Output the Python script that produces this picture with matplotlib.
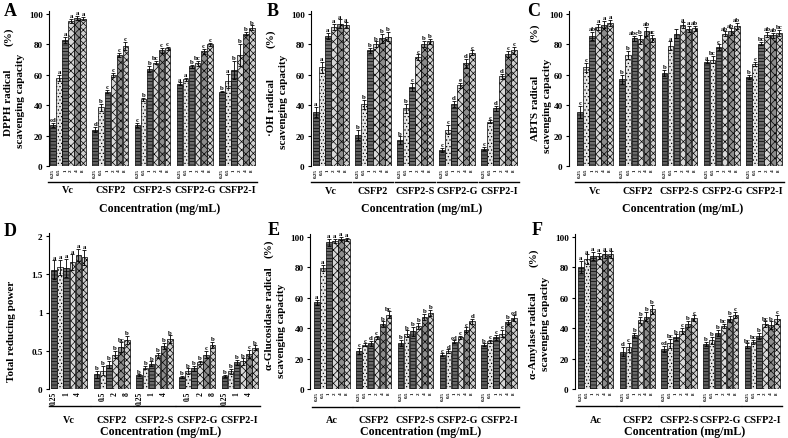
import matplotlib
matplotlib.use("Agg")
import matplotlib.pyplot as plt
from matplotlib.ticker import FuncFormatter

plt.rcParams['font.family'] = ['Liberation Serif', 'DejaVu Serif']
plt.rcParams['font.weight'] = 'bold'
plt.rcParams['hatch.linewidth'] = 0.5

W, H = 788, 439

concs = ["0.25", "0.5", "1", "2", "4", "8"]
groups_v = ["Vc", "CSFP2", "CSFP2-S", "CSFP2-G", "CSFP2-I"]
groups_a = ["Ac", "CSFP2", "CSFP2-S", "CSFP2-G", "CSFP2-I"]

# ---- Panel A: DPPH ----
a_vals = [[27, 58, 83, 95.5, 97.5, 97],
          [24, 38.5, 49, 60, 73, 79],
          [27, 44, 64, 68, 76, 77.5],
          [54, 57, 65.5, 67.5, 75.5, 80],
          [49, 56, 63, 73, 87, 91]]
a_err = [[1.5, 2, 2, 1.5, 1.5, 1],
         [1.5, 2.5, 1, 1.5, 1.5, 2.5],
         [1.5, 1, 2, 1, 1.5, 1],
         [1, 1, 1, 1.5, 1.5, 1],
         [0.5, 4.5, 6, 7.5, 1, 1.5]]
a_sig = [["cd", "a", "a", "a", "a", "a"],
         ["d", "b", "c", "c", "c", "c"],
         ["c", "b", "b", "bc", "c", "c"],
         ["a", "a", "b", "bc", "c", "c"],
         ["b", "a", "b", "b", "b", "b"]]

# ---- Panel B: .OH ----
b_vals = [[35.5, 65, 85.5, 91.5, 93.5, 92.5],
          [20.5, 40.5, 76, 80, 84, 85],
          [17, 38, 52, 71.5, 80.5, 82],
          [10.5, 24, 41, 53, 67.5, 74.5],
          [11.5, 29, 38, 59, 73.5, 76]]
b_err = [[3.5, 3.5, 2, 2, 3, 2],
         [3.5, 3, 1.5, 2, 3, 3],
         [2.5, 3, 2.5, 2, 2, 1.5],
         [1.5, 3, 2, 1.5, 3, 1.5],
         [1, 1, 1.5, 1.5, 2, 2.5]]
b_sig = [["a", "a", "a", "a", "a", "a"],
         ["b", "b", "b", "b", "b", "b"],
         ["b", "b", "c", "c", "b", "b"],
         ["c", "c", "d", "e", "d", "c"],
         ["c", "c", "d", "d", "c", "c"]]

# ---- Panel C: ABTS ----
c_vals = [[35.5, 65, 85.5, 91.5, 93, 94],
          [57, 73, 84, 83.5, 88.5, 84],
          [61, 79, 87, 92.5, 90, 90.5],
          [68.5, 70, 78, 87, 88.5, 92],
          [58.5, 67, 80.5, 86.5, 86, 87.5]]
c_err = [[4, 3, 2.5, 2, 2.5, 2],
         [3, 2.5, 1.5, 3, 3, 2.5],
         [2, 3, 3, 2, 2, 1.5],
         [1, 2.5, 2, 1.5, 2, 2],
         [1.5, 1.5, 1, 1.5, 1.5, 2]]
c_sig = [["c", "c", "ab", "a", "a", "a"],
         ["b", "b", "abc", "b", "ab", "ac"],
         ["b", "a", "", "a", "a", "ab"],
         ["a", "bc", "c", "ab", "ab", "ab"],
         ["b", "c", "bc", "ab", "ab", "bc"]]

# ---- Panel D: total reducing power ----
d_vals = [[1.56, 1.59, 1.58, 1.66, 1.75, 1.72],
          [0.19, 0.24, 0.32, 0.45, 0.55, 0.64],
          [0.18, 0.28, 0.33, 0.44, 0.56, 0.65],
          [0.16, 0.23, 0.27, 0.35, 0.45, 0.58],
          [0.17, 0.23, 0.35, 0.36, 0.46, 0.54]]
d_err = [[0.12, 0.1, 0.12, 0.1, 0.08, 0.1],
         [0.05, 0.06, 0.05, 0.05, 0.06, 0.05],
         [0.01, 0.02, 0.03, 0.03, 0.04, 0.05],
         [0.01, 0.04, 0.03, 0.02, 0.05, 0.04],
         [0.01, 0.03, 0.03, 0.04, 0.05, 0.03]]
d_sig = [["a", "a", "a", "a", "a", "a"],
         ["b", "b", "b", "b", "bc", "b"],
         ["b", "b", "b", "b", "b", "b"],
         ["b", "b", "b", "b", "c", "b"],
         ["b", "b", "b", "b", "c", "b"]]

# ---- Panel E: alpha-glucosidase ----
e_vals = [[57, 79.5, 96.5, 97.5, 99, 98.5],
          [25, 29, 30, 34, 42.5, 49],
          [30.5, 36.5, 38, 41.5, 47.5, 50],
          [22.5, 25, 31, 34, 39, 44.5],
          [29, 31.5, 34, 36.5, 44, 46.5]]
e_err = [[1.5, 2, 2.5, 1.5, 1, 1],
         [2, 1, 1.5, 1, 2, 2],
         [2, 2, 3, 2, 2, 2],
         [1, 1, 1, 1, 1.5, 1.5],
         [1, 1, 1.5, 2.5, 1.5, 2]]
e_sig = [["a", "a", "a", "a", "a", "a"],
         ["c", "c", "d", "c", "b", "bc"],
         ["b", "b", "b", "b", "b", "b"],
         ["c", "d", "cd", "c", "c", "d"],
         ["b", "c", "c", "c", "b", "cd"]]

# ---- Panel F: alpha-amylase ----
f_vals = [[80.5, 85.5, 87.5, 87.5, 88.5, 88.5],
          [24.5, 27.5, 35.5, 45.5, 47.5, 52.5],
          [26.5, 30, 34, 38, 43, 46.5],
          [29.5, 32, 37, 41.5, 46, 48.5],
          [28.5, 31, 35, 42.5, 42, 46]]
f_err = [[4, 3, 2.5, 2, 2, 2],
         [3, 3, 1.5, 2, 3, 3],
         [2, 3, 2, 2, 2, 2],
         [1.5, 2.5, 2, 1.5, 2, 2],
         [1.5, 1.5, 2, 2, 2.5, 3]]
f_sig = [["a", "a", "a", "a", "a", "a"],
         ["d", "c", "b", "b", "b", "b"],
         ["cd", "bc", "b", "c", "b", "c"],
         ["b", "b", "b", "bc", "b", "c"],
         ["bc", "bc", "b", "bc", "b", "c"]]

bar_faces = ['#5e5e5e', '#e6e6e6', '#6a6a6a', '#d8d8d8', '#8c8c8c', '#cfcfcf']
bar_hatch = ['-----', '.....', '-----', 'xxxx', 'xxxx', 'xxxxx']

fig = plt.figure(figsize=(W / 100, H / 100), dpi=100)


def panel(vals, errs, sigs, groups, spine, first, last, y0, ytop_px, ytop_val,
          yticks, letter, letter_xy, ylab_parts, line_off, grp_off, conc_off,
          sparse_ticks=False, fmt=None):
    ppu = (last - first) / 34.0
    xl = -0.5 - (first - spine) / ppu
    xr = 33.5 + 3 / ppu
    ext = 3
    yr = ytop_val * (y0 - ytop_px + ext) / (y0 - ytop_px)
    ax_h = y0 - ytop_px + ext
    ax = fig.add_axes([spine / W, 1 - y0 / H, (xr - xl) * ppu / W, ax_h / H])
    ax.set_xlim(xl, xr)
    ax.set_ylim(0, yr)
    xs_all, lab_all = [], []
    for g, grp in enumerate(groups):
        for i in range(6):
            x = g * 7 + i
            v = vals[g][i]
            e = errs[g][i]
            ax.bar(x, v, width=0.92, color=bar_faces[i], edgecolor='black',
                   linewidth=0.5, hatch=bar_hatch[i], zorder=2)
            ax.errorbar(x, v, yerr=e, fmt='none', ecolor='black', elinewidth=0.6,
                        capsize=1.6, capthick=0.6, zorder=3)
            if sigs[g][i]:
                ax.text(x, v + e + yr * 0.005, sigs[g][i], ha='center', va='bottom',
                        fontsize=4.9, fontweight='bold')
            xs_all.append(x)
            lab_all.append(concs[i])
        cx = g * 7 + 2.5
        lf = -line_off / ax_h
        ax.plot([g * 7 - 0.9, g * 7 + 5.9], [lf, lf], color='black', lw=1.0,
                transform=ax.get_xaxis_transform(), clip_on=False)
        ax.text(cx, -grp_off / ax_h, grp, transform=ax.get_xaxis_transform(),
                ha='center', va='center', fontsize=7.3, fontweight='bold')
    ax.text((xl + xr) / 2 + 1, -conc_off / ax_h, "Concentration (mg/mL)",
            transform=ax.get_xaxis_transform(), ha='center', va='center',
            fontsize=8.6, fontweight='bold')
    if sparse_ticks:
        sel = [k for k in range(len(xs_all)) if (k // 6) % 2 == (k % 6) % 2]
        ax.set_xticks([xs_all[k] for k in sel])
        ax.set_xticklabels([lab_all[k] for k in sel], rotation=90, fontsize=5.5)
    else:
        ax.set_xticks(xs_all)
        ax.set_xticklabels(lab_all, rotation=90, fontsize=3.6)
    ax.tick_params(axis='x', length=0, pad=1.5)
    ax.set_yticks(yticks)
    if fmt:
        ax.yaxis.set_major_formatter(FuncFormatter(fmt))
    ax.tick_params(axis='y', length=2.5, width=0.8, labelsize=6.6, pad=2)
    for s in ['top', 'right', 'bottom']:
        ax.spines[s].set_visible(False)
    ax.spines['left'].set_linewidth(0.8)
    fig.text(letter_xy[0] / W, 1 - letter_xy[1] / H, letter, fontsize=13,
             fontweight='bold', ha='center', va='center')
    for (txt, px, py) in ylab_parts:
        fig.text(px / W, 1 - py / H, txt, rotation=90, ha='center', va='center',
                 fontsize=8.0, fontweight='bold')
    return ax


pct = [0, 20, 40, 60, 80, 100]

panel(a_vals, a_err, a_sig, groups_v, 49, 50, 255, 167, 15, 100, pct, "A", (10, 11),
      [("DPPH radical", 9, 103), ("(%)", 9, 37), ("scavenging capacity", 21, 101)],
      16, 24, 42)
panel(b_vals, b_err, b_sig, groups_v, 311, 313, 517, 167, 15, 100, pct, "B", (273, 11),
      [("·OH radical", 271, 107), ("(%)", 271, 39), ("scavenging capacity", 283, 102)],
      16, 25, 42)
panel(c_vals, c_err, c_sig, groups_v, 569, 577, 782, 167, 15, 100, pct, "C", (534, 11),
      [("ABTS radical", 535, 108), ("(%)", 535, 33), ("scavenging capacity", 547, 106)],
      16, 25, 42)
panel(d_vals, d_err, d_sig, groups_v, 49, 51, 258, 390, 237, 2, [0, 0.5, 1, 1.5, 2], "D",
      (10, 232), [("Total reducing power", 12, 331)], 17, 31, 42,
      sparse_ticks=True, fmt=lambda v, p: "%g" % v)
panel(e_vals, e_err, e_sig, groups_a, 310, 314, 517, 390, 238, 100, pct, "E", (274, 231),
      [("α-Glucosidase radical", 269, 319), ("(%)", 269, 249), ("scavenging capacity", 281, 331)],
      18, 31, 42)
panel(f_vals, f_err, f_sig, groups_a, 575, 578, 780, 390, 238, 100, pct, "F", (537, 231),
      [("α-Amylase radical", 534, 336), ("(%)", 534, 258), ("scavenging capacity", 546, 324)],
      17, 31, 42)

fig.savefig("out.png", dpi=100)
